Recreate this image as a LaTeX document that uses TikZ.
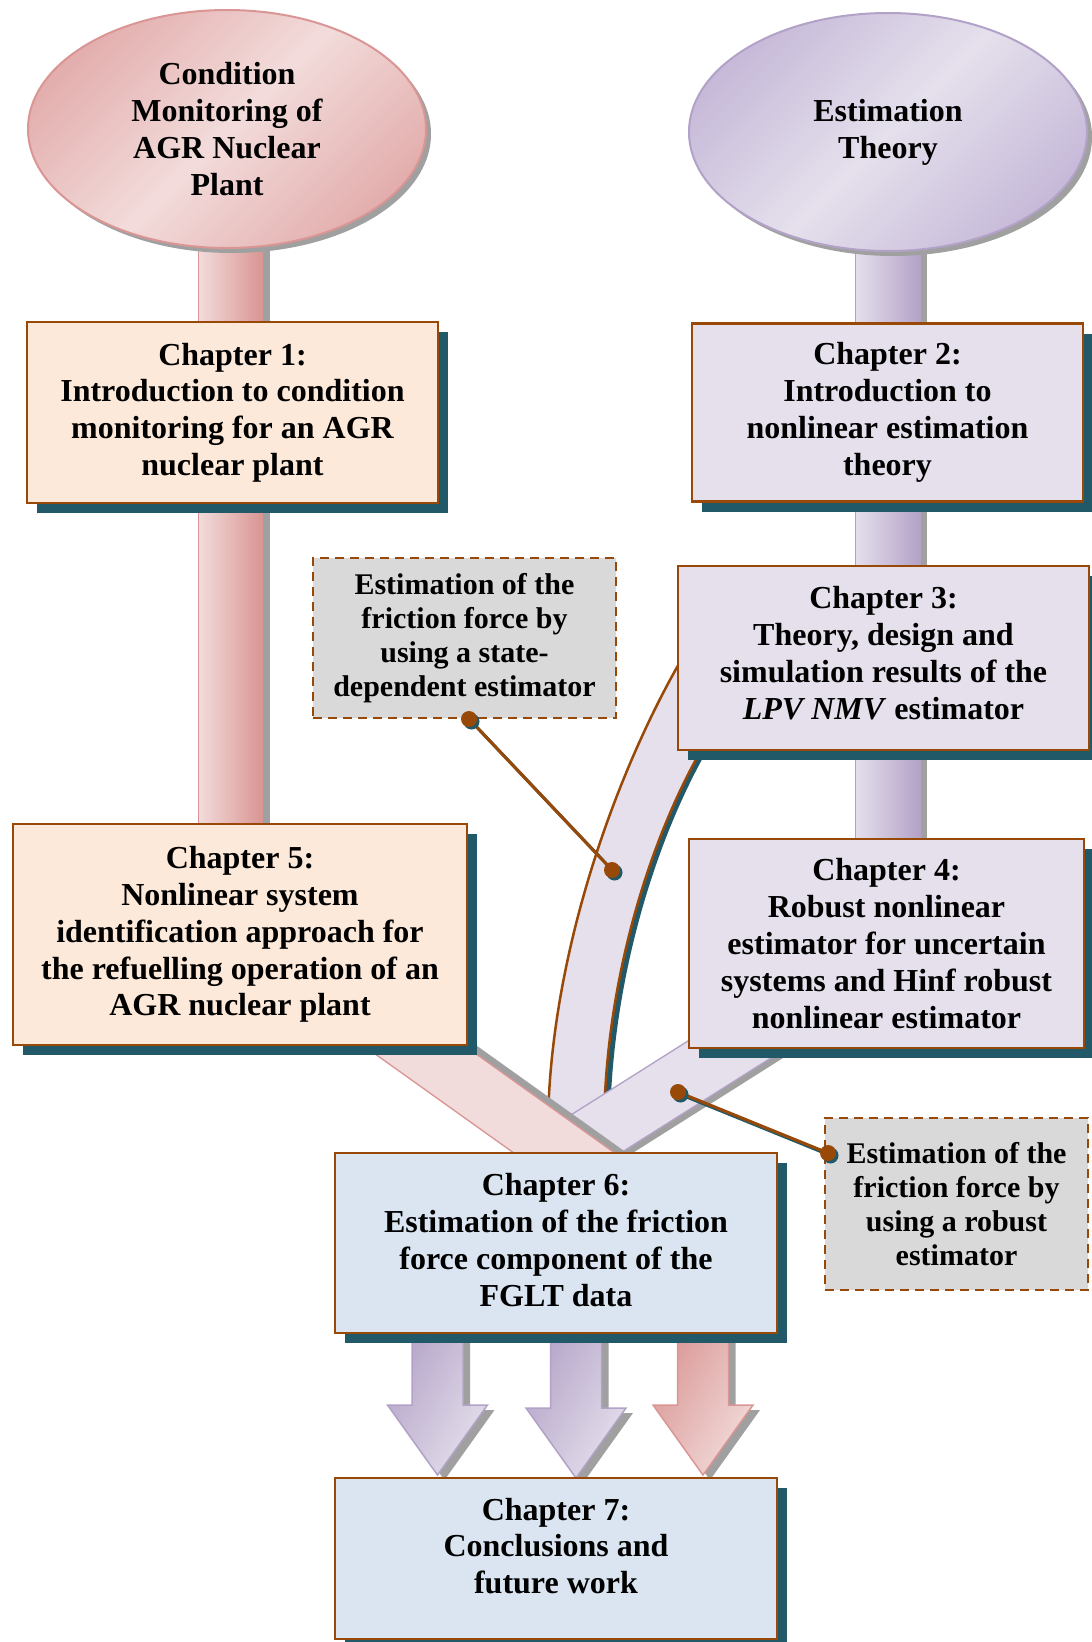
\documentclass[tikz,border=0pt]{standalone}
\usepackage{fontspec}
\setmainfont{Liberation Serif}
\usetikzlibrary{shapes.geometric,shadows,calc}
\definecolor{brn}{HTML}{984807}
\definecolor{shd}{HTML}{215968}
\definecolor{peach}{HTML}{FDE9D9}
\definecolor{lavbox}{HTML}{E5E0EC}
\definecolor{bluebox}{HTML}{DBE5F1}
\definecolor{graybox}{HTML}{D9D9D9}
\definecolor{pkL}{HTML}{F2DCDB}
\definecolor{pkM}{HTML}{E2ACAB}
\definecolor{pkD}{HTML}{D99694}
\definecolor{lvL}{HTML}{E5E0EC}
\definecolor{lvM}{HTML}{C5B8D8}
\definecolor{lvD}{HTML}{B3A2C7}
\definecolor{hatch}{HTML}{A0A0A0}
\newcommand\BlockArr[5]{%
  \fill[hatch] (#1-18.5,1325) -- (#1+32.5,1325) -- (#1+32.5,#2+5) -- (#1+57,#2+5)
     -- (#1+7,#2+75) -- (#1-43,#2+5) -- (#1-18.5,#2+5) -- cycle;
  \begin{scope}
    \clip (#1-25.5,1320) -- (#1+25.5,1320) -- (#1+25.5,#2) -- (#1+50,#2)
     -- (#1,#2+70) -- (#1-50,#2) -- (#1-25.5,#2) -- cycle;
    \shade[left color=#3, right color=#4, shading angle=60] (#1-52,1318) rectangle (#1+52,#2+72);
  \end{scope}
  \draw[#5, line width=1.5pt] (#1-25.5,1320) -- (#1+25.5,1320) -- (#1+25.5,#2) -- (#1+50,#2)
     -- (#1,#2+70) -- (#1-50,#2) -- (#1-25.5,#2) -- cycle;
}
\begin{document}
\begin{tikzpicture}[x=1pt,y=-1pt,
  chtext/.style={font=\fontsize{32}{36.8}\selectfont\bfseries, align=center},
  chbox/.style={rectangle, draw=brn, line width=2.5pt, inner sep=0pt, chtext,
    drop shadow={shadow xshift=10pt, shadow yshift=-10pt, fill=shd, draw=none, opacity=1}},
  dbox/.style={rectangle, draw=brn, fill=graybox, line width=2.5pt, dash pattern=on 9pt off 6pt,
    inner sep=0pt, font=\fontsize{30}{34.2}\selectfont\bfseries, align=center},
  oval/.style={ellipse, minimum width=398, minimum height=238, line width=2pt, chtext},
  callout/.style={draw=brn, line width=3pt},
  calloutshd/.style={draw=shd, line width=3pt},
]
\useasboundingbox (0,0) rectangle (1092,1642);
\clip (0,0) rectangle (1092,1642);
\fill[white] (0,0) rectangle (1092,1642);

% ---------- stems
\coordinate (sL1) at (198,235);
\coordinate (sL2) at (262,830);
\coordinate (sR1) at (855,240);
\coordinate (sR2) at (920,845);
\fill[hatch] (262,245) rectangle (270,830);
\shade[left color=pkL, right color=pkD, draw=pkD, line width=1pt] (sL1) rectangle (sL2);
\fill[hatch] (920,245) rectangle (927,845);
\shade[left color=lvL, right color=lvD, draw=lvD, line width=1pt] (sR1) rectangle (sR2);

% ---------- curved band (chapter 3 -> chapter 6)
\begin{scope}[shift={(6,0)}]
\fill[shd] (690,645) .. controls (620,760) and (550,950) .. (548,1125)
  -- (604,1125) .. controls (606,960) and (662,805) .. (720,720) -- cycle;
\end{scope}
\fill[lavbox] (690,645) .. controls (620,760) and (550,950) .. (548,1125)
  -- (604,1125) .. controls (606,960) and (662,805) .. (720,720) -- cycle;
\draw[brn, line width=2.5pt] (690,645) .. controls (620,760) and (550,950) .. (548,1125);
\draw[brn, line width=2.5pt] (720,720) .. controls (662,805) and (606,960) .. (604,1125);

% ---------- lavender diagonal band (chapter 4 -> chapter 6)
\coordinate (lb1) at (898,943);
\coordinate (lb2) at (507,1190);
\draw[hatch, line width=60pt] ([shift={(3,5)}]lb1) -- ([shift={(3,5)}]lb2);
\draw[lvD, line width=60pt] (lb1) -- (lb2);
\draw[lvL, line width=57pt] (lb1) -- (lb2);

% ---------- pink diagonal band (chapter 5 -> chapter 6)
\coordinate (pb1) at (259,935);
\coordinate (pb2) at (640,1207);
\draw[hatch, line width=60pt] ([shift={(4,-5)}]pb1) -- ([shift={(4,-5)}]pb2);
\draw[pkD, line width=60pt] (pb1) -- (pb2);
\draw[pkL, line width=57pt] (pb1) -- (pb2);

% ---------- ellipses
\fill[hatch] (232,134) ellipse [x radius=199, y radius=119];
\begin{scope}
  \clip (227,129) ellipse [x radius=199, y radius=119];
  \shade[left color=pkM, right color=pkM, middle color=pkL, shading angle=45] (20,0) rectangle (434,258);
\end{scope}
\node[oval, draw=pkD] (eL) at (227,129) {Condition\\Monitoring of\\AGR Nuclear\\Plant};
\fill[hatch] (893,137) ellipse [x radius=199, y radius=119];
\begin{scope}
  \clip (888,132) ellipse [x radius=199, y radius=119];
  \shade[left color=lvM, right color=lvM, middle color=lvL, shading angle=45] (680,5) rectangle (1096,260);
\end{scope}
\node[oval, draw=lvD] (eR) at (888,132) {Estimation\\Theory};

% ---------- block arrows chapter 6 -> chapter 7
\BlockArr{437.5}{1405}{lvD}{lvL}{lvD}
\BlockArr{576}{1408}{lvD}{lvL}{lvD}
\BlockArr{703}{1405}{pkD}{pkL}{pkD}

% ---------- chapter boxes
\node[chbox, fill=peach, minimum width=411, minimum height=181] (ch1) at (232.5,412.5)
  {Chapter 1:\\Introduction to condition\\monitoring for an AGR\\nuclear plant};
\node[chbox, fill=lavbox, minimum width=391, minimum height=178] (ch2) at (887.5,412.5)
  {Chapter 2:\\Introduction to\\nonlinear estimation\\theory};
\node[chbox, fill=lavbox, minimum width=411, minimum height=184] (ch3) at (883.5,658) {};
\node[chtext] (ch3t) at (883.5,653)
  {Chapter 3:\\Theory, design and\\simulation results of the\\\textit{LPV NMV} estimator};
\node[chbox, fill=lavbox, minimum width=395, minimum height=209] (ch4) at (886.5,943.5)
  {Chapter 4:\\Robust nonlinear\\estimator for uncertain\\systems and Hinf robust\\nonlinear estimator};
\node[chbox, fill=peach, minimum width=454, minimum height=221] (ch5) at (240,934.5)
  {Chapter 5:\\Nonlinear system\\identification approach for\\the refuelling operation of an\\AGR nuclear plant};
\node[chbox, fill=bluebox, minimum width=442, minimum height=180] (ch6) at (556,1243) {};
\node[chtext] (ch6t) at (556,1240)
  {Chapter 6:\\Estimation of the friction\\force component of the\\FGLT data};
\node[chbox, fill=bluebox, minimum width=442, minimum height=161] (ch7) at (556,1558.5) {};
\node[chtext] (ch7t) at (556,1546) {Chapter 7:\\Conclusions and\\future work};

% ---------- dashed annotation boxes
\node[dbox, minimum width=303, minimum height=160] (d1) at (464.5,638)
  {Estimation of the\\friction force by\\using a state-\\dependent estimator};
\node[dbox, minimum width=263, minimum height=172] (d2) at (956.5,1204)
  {Estimation of the\\friction force by\\using a robust\\estimator};

% ---------- callouts
\coordinate (k1) at (469,719);
\coordinate (k2) at (612,870);
\coordinate (k3) at (678,1092);
\coordinate (k4) at (828,1153);
\draw[calloutshd] ([shift={(2.5,2.5)}]k1) -- ([shift={(2.5,2.5)}]k2);
\draw[calloutshd] ([shift={(2.5,2.5)}]k3) -- ([shift={(2.5,2.5)}]k4);
\draw[callout] (k1) -- (k2);
\draw[callout] (k3) -- (k4);
\foreach \k in {k1,k2,k3,k4}{
  \fill[shd] ([shift={(2.5,2.5)}]\k) circle (8);
  \fill[brn] (\k) circle (8);
}
\end{tikzpicture}
\end{document}
